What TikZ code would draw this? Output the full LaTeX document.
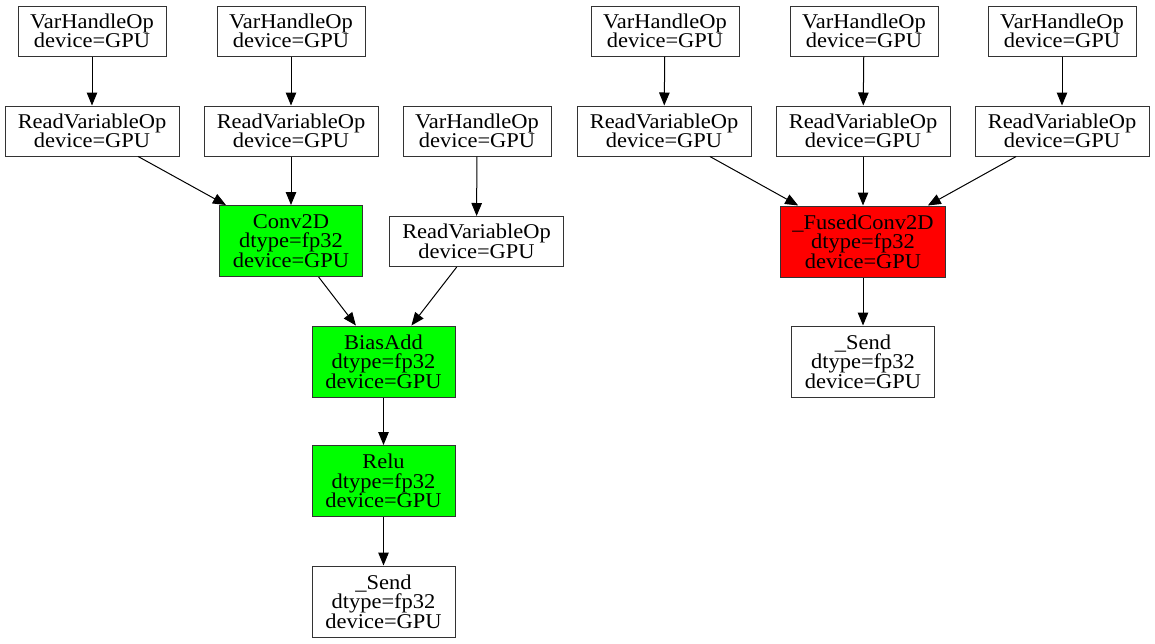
\documentclass[tikz,border=0pt]{standalone}
\usepackage{fontspec}
\setmainfont{Liberation Serif}[FakeStretch=1.07]
\usetikzlibrary{shapes,arrows.meta}

\begin{document}
\begin{tikzpicture}[x=1pt, y=-1pt]
		\tikzstyle {op} = [draw=black!80, line width=1pt, fill=white, align=center, inner sep=0pt, font=\fontsize{21}{19.5}\selectfont]
		\tikzstyle {var box} = [op, minimum width=148pt, minimum height=50pt]
		\tikzstyle {read box} = [op, minimum width=174pt, minimum height=50pt]
		\tikzstyle {calc box} = [op, minimum width=143pt, minimum height=71pt]
		\tikzstyle {flow} = [-{Triangle[length=13pt, width=10.5pt]}, line width=1pt]

		\useasboundingbox (0,0) rectangle (1155,643);

		% unfused graph
		\node[var box] (var1) at (92,31) {VarHandleOp\\device=GPU};
		\node[var box] (var2) at (291,31) {VarHandleOp\\device=GPU};
		\node[read box] (read1) at (92,131) {ReadVariableOp\\device=GPU};
		\node[read box] (read2) at (291,131) {ReadVariableOp\\device=GPU};
		\node[var box] (var3) at (477,131) {VarHandleOp\\device=GPU};
		\node[calc box, fill=green] (conv) at (291,241) {Conv2D\\dtype=fp32\\device=GPU};
		\node[read box] (read3) at (476.5,241.5) {ReadVariableOp\\device=GPU};
		\node[calc box, fill=green] (bias) at (383.5,361.5) {BiasAdd\\dtype=fp32\\device=GPU};
		\node[calc box, fill=green] (relu) at (383.5,481) {Relu\\dtype=fp32\\device=GPU};
		\node[calc box] (send1) at (383.5,601.5) {\_Send\\dtype=fp32\\device=GPU};

		\draw[flow] (var1) -- (read1);
		\draw[flow] (var2) -- (read2);
		\draw[flow] (read1) -- (conv);
		\draw[flow] (read2) -- (conv);
		\draw[flow] (var3) -- (read3);
		\draw[flow] (conv) -- (bias);
		\draw[flow] (read3) -- (bias);
		\draw[flow] (bias) -- (relu);
		\draw[flow] (relu) -- (send1);

		% fused graph
		\node[var box] (var4) at (665,31) {VarHandleOp\\device=GPU};
		\node[var box] (var5) at (864,31) {VarHandleOp\\device=GPU};
		\node[var box] (var6) at (1062,31) {VarHandleOp\\device=GPU};
		\node[read box] (read4) at (664,131) {ReadVariableOp\\device=GPU};
		\node[read box] (read5) at (863,131) {ReadVariableOp\\device=GPU};
		\node[read box] (read6) at (1062,131) {ReadVariableOp\\device=GPU};
		\node[calc box, fill=red, minimum width=165pt] (fused) at (863,241.5) {\_FusedConv2D\\dtype=fp32\\device=GPU};
		\node[calc box] (send2) at (863,361.5) {\_Send\\dtype=fp32\\device=GPU};

		\draw[flow] (var4) -- (read4);
		\draw[flow] (var5) -- (read5);
		\draw[flow] (var6) -- (read6);
		\draw[flow] (read4) -- (fused);
		\draw[flow] (read5) -- (fused);
		\draw[flow] (read6) -- (fused);
		\draw[flow] (fused) -- (send2);
	\end{tikzpicture}
\end{document}
